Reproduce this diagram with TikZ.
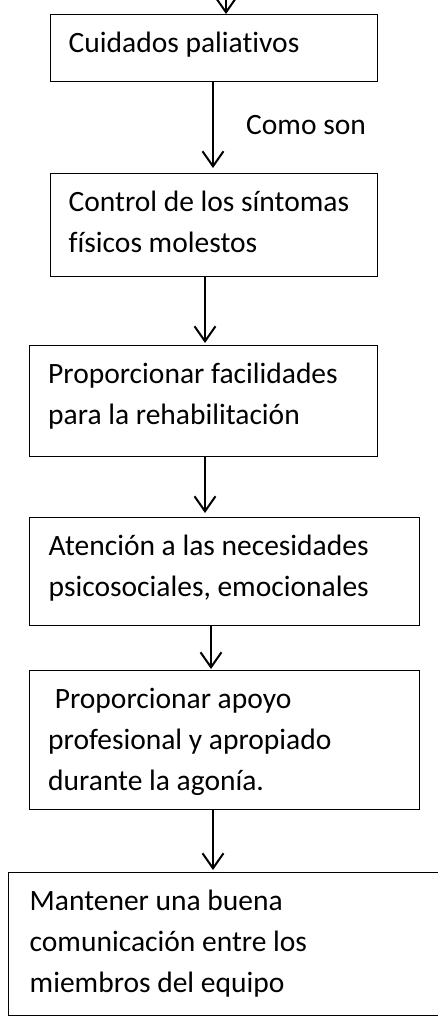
\documentclass[tikz,border=0pt]{standalone}
\usepackage{fontspec}
\setmainfont{Carlito}[Ligatures={NoCommon}]
\usetikzlibrary{arrows.meta}
\tikzset{
  box/.style={draw=black, line width=1.2pt, rectangle, inner sep=0pt, anchor=north west},
  txt/.style={anchor=base west, inner sep=0pt, font=\fontsize{29.5}{41}\selectfont},
  arr/.style={draw=black, line width=2pt, -{Straight Barb[length=15pt,width=21pt,line width=2pt]}},
}
\newcommand{\ptext}[1]{\parbox[t]{400pt}{\raggedright #1}}
\begin{document}
\begin{tikzpicture}[x=1pt,y=-1pt]
\useasboundingbox (0,0) rectangle (437,1023);
% boxes
\node[box, minimum width=327pt, minimum height=67pt]  (b1) at (50,14) {};
\node[box, minimum width=327pt, minimum height=103pt] (b2) at (50,173) {};
\node[box, minimum width=348pt, minimum height=111pt] (b3) at (29,345) {};
\node[box, minimum width=390pt, minimum height=108pt] (b4) at (29,517) {};
\node[box, minimum width=390pt, minimum height=139pt] (b5) at (29,670) {};
\node[box, minimum width=440pt, minimum height=143pt] (b6) at (8,872) {};
% texts
\node[txt] (t1) at (68.5,52) {Cuidados paliativos};
\node[txt] (t2) at (68.5,211) {\ptext{Control de los síntomas\\físicos molestos}};
\node[txt] (t3) at (48,383) {\ptext{Proporcionar facilidades\\para la rehabilitación}};
\node[txt] (t4) at (48.5,555) {\ptext{Atención a las necesidades\\psicosociales, emocionales}};
\node[txt] (t5) at (48,708) {\ptext{\hspace*{0.226em}Proporcionar apoyo\\profesional y apropiado\\durante la agonía.}};
\node[txt] (t6) at (29.5,910) {\ptext{Mantener una buena\\comunicación entre los\\miembros del equipo}};
\node[txt] (lbl) at (246,134) {Como son};
% arrow x positions
\coordinate (top) at (226,-2);
\coordinate (xa1) at (213,0);
\coordinate (xa2) at (205,0);
\coordinate (xa3) at (205,0);
\coordinate (xa4) at (211,0);
\coordinate (xa5) at (213,0);
% connectors
\draw[arr] (top) -- (b1.north -| top);
\draw[arr] (b1.south -| xa1) -- ([yshift=5pt]b2.north -| xa1);
\draw[arr] (b2.south -| xa2) -- ([yshift=2pt]b3.north -| xa2);
\draw[arr] (b3.south -| xa3) -- ([yshift=4pt]b4.north -| xa3);
\draw[arr] (b4.south -| xa4) -- ([yshift=1pt]b5.north -| xa4);
\draw[arr] (b5.south -| xa5) -- ([yshift=2pt]b6.north -| xa5);
\end{tikzpicture}
\end{document}
